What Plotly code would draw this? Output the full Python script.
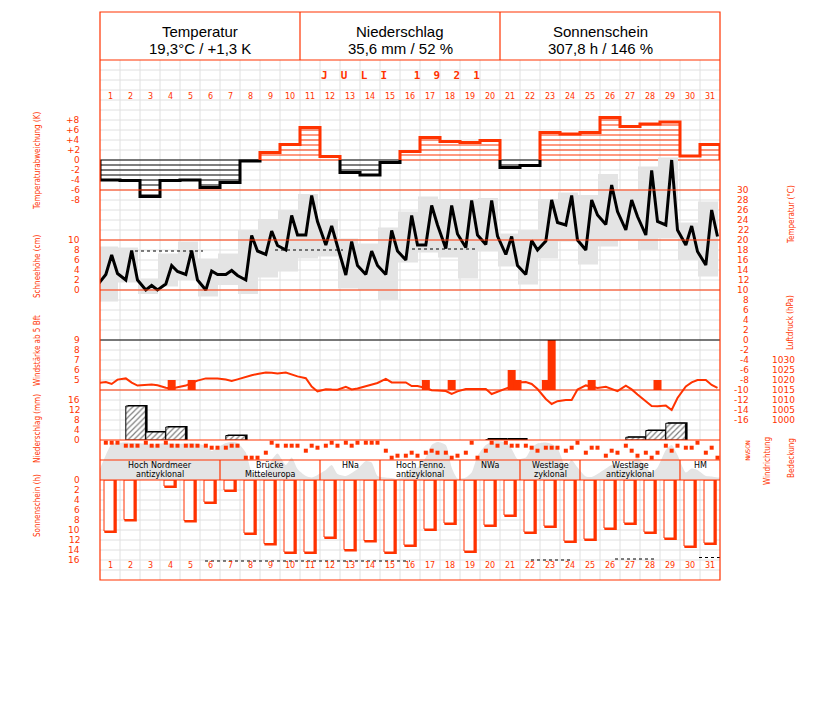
import plotly.graph_objects as go

RED = "#ff3300"
GRID = "#e0e0e0"
GRAY = "#e4e4e4"

# ---------------- data ----------------
days = list(range(1, 32))
obs_hours = [7, 14, 21]

header_titles = ["Temperatur", "Niederschlag", "Sonnenschein"]
header_values = ["19,3°C / +1,3 K", "35,6 mm / 52 %", "307,8 h / 146 %"]
month_label = "J  U  L  I    1  9  2  1"

temp_anomaly = [-4.0, -4.1, -7.3, -4.1, -4.0, -5.5, -4.5, -0.2, 1.5, 3.1, 6.5, 0.7, -2.5, -3.0, -0.5, 1.7,
                4.5, 3.7, 3.5, 3.9, -1.5, -1.1, 5.5, 5.2, 5.5, 8.5, 6.7, 7.2, 7.6, 0.8, 3.1]

temp_prev = 11.0
temp_07 = [13.1, 12.0, 10.0, 11.2, 13.1, 10.0, 13.1, 12.0, 17.1, 18.0, 21.0, 19.0, 13.0, 13.1, 13.1, 16.0,
           19.0, 18.3, 18.5, 19.1, 17.1, 13.1, 19.8, 23.0, 18.0, 23.1, 22.0, 21.0, 23.0, 19.0, 15.0]
temp_14 = [17.0, 17.9, 10.9, 14.9, 17.9, 13.8, 13.9, 20.9, 21.8, 24.9, 28.9, 22.8, 19.7, 17.8, 21.9, 24.9,
           26.9, 26.9, 27.9, 27.9, 20.7, 19.9, 28.0, 28.9, 28.0, 31.0, 28.0, 33.9, 36.0, 22.8, 26.0]
temp_21 = [13.3, 12.0, 10.0, 13.7, 12.0, 13.1, 12.9, 17.8, 18.9, 21.0, 23.7, 18.7, 14.9, 14.9, 17.8, 19.0,
           23.0, 21.2, 21.0, 20.8, 14.9, 18.0, 23.5, 20.0, 25.0, 25.7, 24.7, 23.7, 22.0, 17.7, 20.7]
temp_max = [18.7, 18.5, 12.3, 17.3, 19.7, 16.3, 17.3, 22.0, 24.2, 26.0, 29.2, 24.2, 20.3, 19.3, 22.5, 25.7,
            28.7, 28.2, 28.2, 28.4, 21.3, 22.0, 28.2, 29.5, 29.0, 33.2, 30.1, 34.7, 36.5, 23.5, 27.7]
temp_min = [7.7, 11.5, 9.2, 10.7, 12.0, 8.7, 11.0, 9.2, 12.5, 13.7, 16.3, 16.7, 10.3, 10.0, 8.0, 15.5,
            17.5, 16.5, 12.3, 17.7, 14.7, 11.1, 16.3, 19.7, 15.1, 18.7, 20.0, 18.0, 20.3, 16.0, 12.7]
temp_ref_start = [1.75, 8.75, 15.6]
temp_ref_end = [5.15, 12.15, 18.9]
temp_ref_value = [17.8, 18.0, 18.2]

pressure_prev = 1018.5
pressure_07 = [1019.0, 1020.8, 1017.6, 1016.1, 1017.2, 1020.8, 1020.2, 1021.6, 1023.7, 1023.7, 1020.9, 1015.4,
               1016.6, 1016.9, 1020.6, 1018.8, 1016.0, 1014.5, 1015.5, 1015.5, 1015.5, 1019.0, 1010.5, 1010.0,
               1017.3, 1016.6, 1017.2, 1009.4, 1007.2, 1016.8, 1020.0]
pressure_14 = [1018.0, 1018.7, 1017.7, 1015.7, 1018.5, 1020.8, 1019.5, 1022.4, 1023.6, 1022.6, 1016.7, 1015.2,
               1015.3, 1017.4, 1018.8, 1017.0, 1014.9, 1013.0, 1015.5, 1013.0, 1016.8, 1018.0, 1008.0, 1010.0,
               1016.8, 1015.5, 1015.3, 1007.0, 1005.0, 1018.8, 1017.5]
pressure_21 = [1020.2, 1017.2, 1017.4, 1016.4, 1019.7, 1020.8, 1020.3, 1023.0, 1023.2, 1021.8, 1014.3, 1015.1,
               1015.8, 1018.5, 1018.8, 1017.0, 1014.7, 1014.3, 1015.5, 1014.0, 1018.8, 1015.5, 1009.4, 1015.2,
               1016.0, 1014.4, 1012.7, 1006.9, 1011.0, 1020.0, 1016.1]

wind_event_day = [4, 5, 17, 18, 21, 21, 23, 23, 25, 28]
wind_event_hour = [14, 14, 7, 14, 14, 21, 7, 14, 14, 21]
wind_event_bft = [5, 5, 5, 5, 6, 5, 5, 9, 5, 5]

precip = [0, 13.6, 3.2, 5.2, 0, 0, 1.8, 0, 0, 0, 0, 0, 0, 0, 0, 0, 0, 0, 0, 0.1,
          0.1, 0, 0, 0, 0, 0, 1.1, 3.8, 6.7, 0, 0]

cloud_prev = 1.0
cloud_next = 0.5
cloud_07 = [5.0, 7.5, 7.2, 7.4, 7.3, 6.8, 7.4, 5.5, 1.5, 3.0, 0.8, 2.0, 0.8, 3.8, 0.5, 1.0,
            4.5, 7.0, 0.5, 7.0, 7.5, 4.5, 7.5, 2.6, 0.7, 2.3, 2.5, 2.5, 6.0, 1.5, 0.8]
cloud_14 = [7.2, 7.4, 7.0, 7.3, 7.4, 5.8, 7.6, 1.6, 4.0, 4.5, 0.5, 3.0, 1.4, 3.5, 0.4, 2.5,
            7.0, 2.5, 1.5, 7.6, 6.2, 6.5, 7.2, 4.0, 0.6, 3.0, 3.5, 1.5, 7.0, 2.3, 0.7]
cloud_21 = [7.4, 7.4, 7.2, 7.2, 7.2, 6.5, 7.4, 1.0, 5.3, 2.2, 1.0, 1.2, 2.2, 0.8, 0.2, 2.5,
            7.6, 0.3, 4.8, 7.8, 4.2, 7.3, 6.4, 2.5, 1.2, 2.9, 4.5, 2.5, 5.0, 2.0, 0.5]

wind_dir_07 = [0, 67.5, 0, 0, 67.5, 67.5, 112.5, 337.5, 225, 67.5, 180, 67.5, 0, 0, 180, 292.5,
               225, 225, 225, 180, 0, 67.5, 112.5, 180, 225, 292.5, 67.5, 225, 67.5, 112.5, 225]
wind_dir_14 = [0, 67.5, 67.5, 67.5, 67.5, 112.5, 67.5, 337.5, 0, 67.5, 67.5, 0, 67.5, 0, 337.5, 225,
               180, 337.5, 0, 0, 67.5, 112.5, 112.5, 112.5, 112.5, 180, 180, 337.5, 180, 112.5, 112.5]
wind_dir_21 = [0, 67.5, 67.5, 67.5, 67.5, 112.5, 67.5, 337.5, 67.5, 67.5, 112.5, 67.5, 0, 0, 292.5, 292.5,
               225, 292.5, 337.5, 67.5, 67.5, 180, 112.5, 0, 112.5, 225, 292.5, 225, 67.5, 0, 337.5]

sunshine = [10.2, 7.9, 0.0, 1.2, 8.1, 4.4, 2.0, 10.6, 12.7, 14.4, 14.4, 11.4, 13.9, 12.1, 14.4, 13.0,
            9.8, 8.6, 14.2, 9.0, 7.0, 10.4, 9.2, 12.2, 11.8, 9.6, 8.6, 10.4, 11.6, 13.2, 12.6]
sun_ref_start = [5.25, 21.55, 25.75, 29.95]
sun_ref_end = [15.5, 23.6, 27.85, 31.0]
sun_ref_value = [16.2, 16.0, 15.8, 15.5]

weather_start = [1, 7, 12, 15, 19, 22, 25, 30]
weather_end = [6, 11, 14, 18, 21, 24, 29, 31]
weather_line1 = ["Hoch Nordmeer", "Brücke", "HNa", "Hoch Fenno.", "NWa", "Westlage", "Westlage", "HM"]
weather_line2 = ["antizyklonal", "Mitteleuropa", "", "antizyklonal", "", "zyklonal", "antizyklonal", ""]

anom_ticks = [8, 6, 4, 2, 0, -2, -4, -6, -8]
anom_tick_text = ["+8", "+6", "+4", "+2", "0", "-2", "-4", "-6", "-8"]
snow_ticks = [10, 8, 6, 4, 2, 0]
wind_ticks = [9, 8, 7, 6, 5]
precip_ticks = [16, 12, 8, 4, 0]
sun_ticks = [0, 2, 4, 6, 8, 10, 12, 14, 16]
temp_ticks = [30, 28, 26, 24, 22, 20, 18, 16, 14, 12, 10, 8, 6, 4, 2, 0, -2, -4, -6, -8, -10, -12, -14, -16]
pressure_ticks = [1030, 1025, 1020, 1015, 1010, 1005, 1000]
wind_dir_ticks = [0, 90, 180, 270, 360]
wind_dir_labels = ["N", "O", "S", "W", "N"]

# ---------------- geometry helpers ----------------
OFF = 8                      # page body margin of the browser
W, HGT = 827 - OFF, 702 - OFF
L, R, T, B = 100, 720, 12, 580   # plot area in page pixels
PH = B - T


def py(ypx):
    return (B - ypx) / PH


def px(xpx):
    return (xpx - L) / (R - L)


def dom(top, bottom):
    return [py(bottom), py(top)]


def obs_x(d, h):
    return d - 1 + h / 24.0


def interleave(a, b, c):
    out = []
    for i in range(len(a)):
        out += [a[i], b[i], c[i]]
    return out


obs_xs = [obs_x(d, h) for d in days for h in obs_hours]

fig = go.Figure()

# temperature min/max boxes
fig.add_trace(go.Bar(x=[d - 0.6 for d in days], y=[mx - mn for mx, mn in zip(temp_max, temp_min)],
                     base=temp_min, width=1.0, marker=dict(color=GRAY, line=dict(width=0)),
                     yaxis="y2", hoverinfo="skip"))

# anomaly hatch lines
for sign, color in ((1, RED), (-1, "black")):
    xs, ys = [], []
    for k in range(0, 10):
        for d, a in zip(days, temp_anomaly):
            if a * sign > 0 and a * sign >= k:
                xs += [d - 1, d, None]
                ys += [sign * k, sign * k, None]
    fig.add_trace(go.Scatter(x=xs, y=ys, mode="lines", line=dict(color=color, width=1),
                             yaxis="y", hoverinfo="skip"))

# anomaly outline runs
runs, cur = [], [days[0]]
for d in days[1:]:
    if (temp_anomaly[d - 1] > 0) == (temp_anomaly[cur[-1] - 1] > 0):
        cur.append(d)
    else:
        runs.append(cur)
        cur = [d]
runs.append(cur)
for run in runs:
    color = RED if temp_anomaly[run[0] - 1] > 0 else "black"
    xs, ys = [run[0] - 1], [0]
    for d in run:
        a = temp_anomaly[d - 1]
        xs += [d - 1, d]
        ys += [a, a]
    xs.append(run[-1])
    ys.append(0)
    fig.add_trace(go.Scatter(x=xs, y=ys, mode="lines", line=dict(color=color, width=3),
                             yaxis="y", hoverinfo="skip"))

# dotted reference lines (temperature)
xs, ys = [], []
for s, e, v in zip(temp_ref_start, temp_ref_end, temp_ref_value):
    xs += [s, e, None]
    ys += [v, v, None]
fig.add_trace(go.Scatter(x=xs, y=ys, mode="lines", line=dict(color="black", width=1, dash="dot"),
                         yaxis="y2", hoverinfo="skip"))

# temperature line
fig.add_trace(go.Scatter(x=[-3 / 24] + obs_xs, y=[temp_prev] + interleave(temp_07, temp_14, temp_21),
                         mode="lines", line=dict(color="black", width=3), yaxis="y2", hoverinfo="skip"))

# snow axis placeholder (no snow in July)
fig.add_trace(go.Scatter(x=[None], y=[None], yaxis="y9", hoverinfo="skip"))

# pressure
fig.add_trace(go.Scatter(x=[-3 / 24] + obs_xs, y=[pressure_prev] + interleave(pressure_07, pressure_14, pressure_21),
                         mode="lines", line=dict(color=RED, width=2), yaxis="y3", hoverinfo="skip"))

# wind >= 5 Bft
fig.add_trace(go.Bar(x=[obs_x(d, h) for d, h in zip(wind_event_day, wind_event_hour)],
                     y=[b - 4 for b in wind_event_bft], base=4, width=0.4,
                     marker=dict(color=RED, line=dict(width=0)), yaxis="y4", hoverinfo="skip"))

# precipitation
pd_days = [d for d, v in zip(days, precip) if v > 0]
pd_vals = [v for v in precip if v > 0]
fig.add_trace(go.Bar(x=[d - 0.12 for d in pd_days], y=[v + 0.4 for v in pd_vals], width=1.0,
                     marker=dict(color="black", line=dict(width=0)), yaxis="y5", hoverinfo="skip"))
fig.add_trace(go.Bar(x=[d - 0.22 for d in pd_days], y=pd_vals, width=0.98,
                     marker=dict(color="white", line=dict(color="black", width=1),
                                 pattern=dict(shape="/", fgcolor="black", bgcolor="white", size=4, solidity=0.3)),
                     yaxis="y5", hoverinfo="skip"))

# cloud cover
fig.add_trace(go.Scatter(x=[-3 / 24] + obs_xs + [31 + 7 / 24],
                         y=[cloud_prev] + interleave(cloud_07, cloud_14, cloud_21) + [cloud_next],
                         mode="lines", fill="tozeroy", fillcolor=GRAY,
                         line=dict(width=0, shape="spline", smoothing=0.6, color=GRAY),
                         yaxis="y6", hoverinfo="skip"))

# wind direction
fig.add_trace(go.Scatter(x=obs_xs, y=interleave(wind_dir_07, wind_dir_14, wind_dir_21), mode="markers",
                         marker=dict(symbol="square", size=4, color=RED, line=dict(width=0)),
                         yaxis="y7", hoverinfo="skip"))

# sunshine
sd = [d for d, v in zip(days, sunshine) if v > 0]
sv = [v for v in sunshine if v > 0]
fig.add_trace(go.Bar(x=[d - 1 + 0.53 for d in sd], y=[v + 0.4 for v in sv], width=0.62,
                     marker=dict(color=RED, line=dict(width=0)), yaxis="y8", hoverinfo="skip"))
fig.add_trace(go.Bar(x=[d - 1 + 0.45 for d in sd], y=sv, width=0.5,
                     marker=dict(color="white", line=dict(color=RED, width=1)), yaxis="y8", hoverinfo="skip"))
xs, ys = [], []
for s, e, v in zip(sun_ref_start, sun_ref_end, sun_ref_value):
    xs += [s, e, None]
    ys += [v, v, None]
fig.add_trace(go.Scatter(x=xs, y=ys, mode="lines", line=dict(color="black", width=1, dash="dot"),
                         yaxis="y8", hoverinfo="skip"))

# ---------------- shapes ----------------
shapes = []


def hline(ypx, color, width=1, layer="below", x0=L, x1=R):
    shapes.append(dict(type="line", xref="paper", yref="paper", x0=px(x0), x1=px(x1), y0=py(ypx), y1=py(ypx),
                       line=dict(color=color, width=width), layer=layer))


def vline_px(xpx, y0, y1, color, width=1, layer="below"):
    shapes.append(dict(type="line", xref="paper", yref="paper", x0=px(xpx), x1=px(xpx), y0=py(y0), y1=py(y1),
                       line=dict(color=color, width=width), layer=layer))


for yy in list(range(70, 440, 10)) + list(range(490, 580, 10)):
    hline(yy, GRID)
for d in range(1, 31):
    for (a, b) in ((60, 440), (480, 580)):
        shapes.append(dict(type="line", xref="x", yref="paper", x0=d, x1=d, y0=py(a), y1=py(b),
                           line=dict(color=GRID, width=1), layer="below"))

for yy in (60, 190, 240, 290, 390, 440, 460, 480):
    hline(yy, RED, 1.2, "above")
hline(340, "black", 1.2, "above")
shapes.append(dict(type="rect", xref="paper", yref="paper", x0=0, x1=1, y0=0, y1=1,
                   line=dict(color=RED, width=1.2), layer="above"))
vline_px(300, 12, 60, RED, 1.2, "above")
vline_px(500, 12, 60, RED, 1.2, "above")
for e in weather_end[:-1]:
    shapes.append(dict(type="line", xref="x", yref="paper", x0=e, x1=e, y0=py(460), y1=py(480),
                       line=dict(color=RED, width=1.2), layer="above"))

# ---------------- annotations ----------------
ann = []
TICKF = dict(family="DejaVu Sans", size=9, color=RED)
TITLEF = dict(family="DejaVu Sans Condensed, Liberation Sans", size=8, color=RED)


def text(x, y, s, font, xref="paper", yref="paper", xanchor="center", yanchor="middle", angle=0):
    ann.append(dict(x=x, y=y, text=s, xref=xref, yref=yref, xanchor=xanchor, yanchor=yanchor,
                    showarrow=False, font=font, textangle=angle))


HF = dict(family="Liberation Sans", size=15, color="black")
for i, (t, v) in enumerate(zip(header_titles, header_values)):
    cx = px(200 + 200 * i)
    text(cx, py(31), t, HF)
    text(cx, py(48), v, HF)

text(px(400), py(75), "<b>" + month_label + "</b>", dict(family="DejaVu Sans Mono", size=11, color=RED))
DAYF = dict(family="DejaVu Sans", size=8, color=RED)
for d in days:
    text(d - 0.5, py(97), str(d), DAYF, xref="x")
    text(d - 0.5, py(565), str(d), DAYF, xref="x")

for v, s in zip(anom_ticks, anom_tick_text):
    text(px(82), v, s, TICKF, yref="y", xanchor="right")
for v in snow_ticks:
    text(px(82), v, str(v), TICKF, yref="y9", xanchor="right")
for v in wind_ticks:
    text(px(82), v, str(v), TICKF, yref="y4", xanchor="right")
for v in precip_ticks:
    text(px(82), v, str(v), TICKF, yref="y5", xanchor="right")
for v in sun_ticks:
    text(px(82), v, str(v), TICKF, yref="y8", xanchor="right")
for v in temp_ticks:
    text(px(751), v, str(v), TICKF, yref="y2", xanchor="right")
for v in pressure_ticks:
    text(px(797), v, str(v), TICKF, yref="y3", xanchor="right")
for v, s in zip(wind_dir_ticks, wind_dir_labels):
    text(px(748), v, s, dict(family="DejaVu Sans", size=6, color=RED), yref="y7", angle=-90)

for s, yc in (("Temperaturabweichung (K)", 161), ("Schneehöhe (cm)", 266), ("Windstärke ab 5 Bft", 351),
              ("Niederschlag (mm)", 429), ("Sonnenschein (h)", 506)):
    text(px(37), py(yc), s, TITLEF, angle=-90)
for s, xc, yc in (("Temperatur (°C)", 791, 215), ("Luftdruck (hPa)", 790, 322),
                  ("Windrichtung", 767, 461), ("Bedeckung", 791, 458)):
    text(px(xc), py(yc), s, TITLEF, angle=-90)

BANDF = dict(family="DejaVu Sans", size=8, color="black")
for s, e, l1, l2 in zip(weather_start, weather_end, weather_line1, weather_line2):
    cx = (s - 1 + e) / 2
    text(cx, py(466), l1, BANDF, xref="x")
    if l2:
        text(cx, py(474), l2, BANDF, xref="x")

# ---------------- layout ----------------
hidden = dict(visible=False, fixedrange=True)
fig.update_layout(
    width=W, height=HGT, autosize=False,
    margin=dict(l=L - OFF, r=827 - R, t=T - OFF, b=702 - B, pad=0),
    paper_bgcolor="white", plot_bgcolor="rgba(0,0,0,0)",
    showlegend=False, barmode="overlay", hovermode=False,
    xaxis=dict(range=[0, 31], **hidden),
    yaxis=dict(domain=dom(100, 200), range=[-8, 12], anchor="x", **hidden),
    yaxis2=dict(domain=dom(150, 430), range=[-18, 38], anchor="x", **hidden),
    yaxis3=dict(domain=dom(340, 440), range=[990, 1040], anchor="x", **hidden),
    yaxis4=dict(domain=dom(340, 390), range=[4, 9], anchor="x", **hidden),
    yaxis5=dict(domain=dom(400, 440), range=[0, 16], anchor="x", **hidden),
    yaxis6=dict(domain=dom(440, 480), range=[0, 8], anchor="x", **hidden),
    yaxis7=dict(domain=dom(440, 460), range=[389.25, -60.75], anchor="x", **hidden),
    yaxis8=dict(domain=dom(480, 580), range=[20, 0], anchor="x", **hidden),
    yaxis9=dict(domain=dom(230, 300), range=[-2, 12], anchor="x", **hidden),
    shapes=shapes, annotations=ann,
)

fig.write_html("out.html")
